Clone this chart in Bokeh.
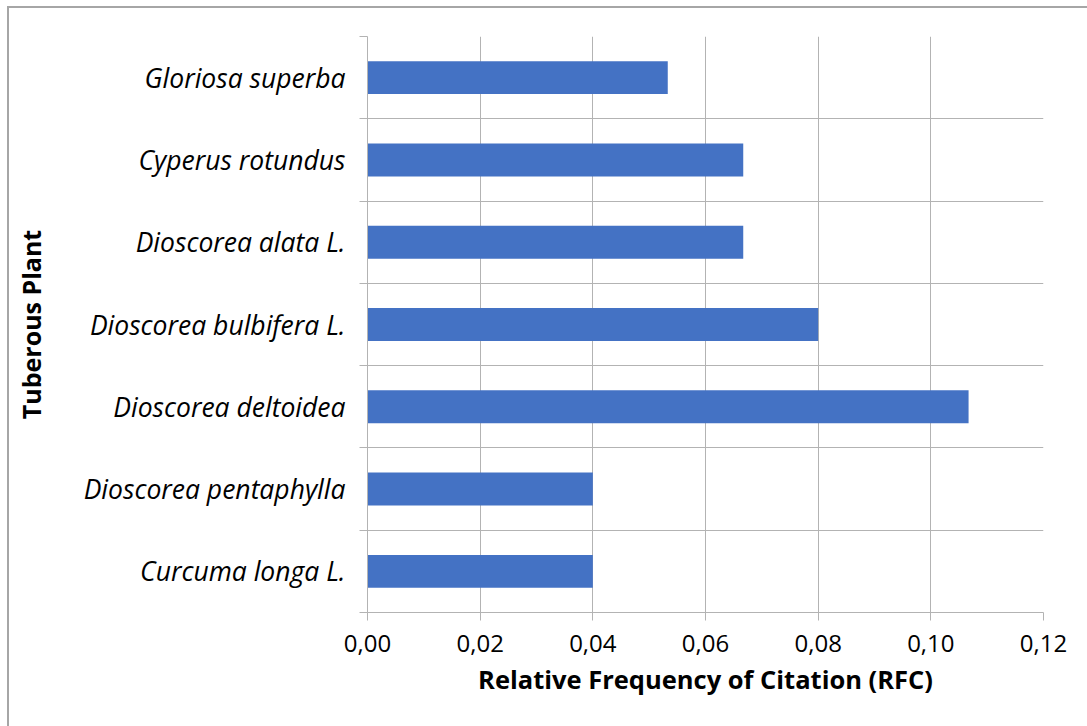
from bokeh.plotting import figure
from bokeh.models import FixedTicker, CustomJSTickFormatter, ColumnDataSource, Range1d, Spacer
from bokeh.layouts import column, row
from bokeh.embed import file_html
from bokeh.resources import INLINE

categories = ["Curcuma longa L.", "Dioscorea pentaphylla", "Dioscorea deltoidea",
              "Dioscorea bulbifera L.", "Dioscorea alata L.", "Cyperus rotundus",
              "Gloriosa superba"]
rfc = [0.04, 0.04, 0.1067, 0.08, 0.0667, 0.0667, 0.0533]
x_ticks = [0.0, 0.02, 0.04, 0.06, 0.08, 0.10, 0.12]

ypos = list(range(len(categories)))
src = ColumnDataSource(dict(y=ypos, rfc=rfc, name=categories))

FONT = "Open Sans"
GRID = "#b3b3b3"

p = figure(width=1080, height=720, output_backend="svg", toolbar_location=None,
           x_range=Range1d(0, 0.12), y_range=Range1d(-0.5, len(categories) - 0.5),
           min_border_left=358, min_border_right=46, min_border_top=28, min_border_bottom=116)
p.styles = {"border-top": "2px solid #a6a6a6", "border-left": "2px solid #a6a6a6"}
p.outline_line_color = None

p.hbar(y="y", right="rfc", left=0, height=0.4, source=src, fill_color="#4472C4", line_color=None)

# x axis
p.xaxis.ticker = FixedTicker(ticks=x_ticks)
p.xaxis.formatter = CustomJSTickFormatter(code="return tick.toFixed(2).replace('.', ',');")
p.xaxis.major_tick_out = 8
p.xaxis.major_tick_in = 0
p.xaxis.minor_tick_out = 0
p.xaxis.axis_line_color = GRID
p.xaxis.major_tick_line_color = GRID
p.xaxis.major_label_text_font = FONT
p.xaxis.major_label_text_font_size = "24px"
p.xaxis.major_label_text_color = "#000000"
p.xaxis.major_label_standoff = 14
p.xaxis.axis_label = "Relative Frequency of Citation (RFC)"
p.xaxis.axis_label_text_font = FONT
p.xaxis.axis_label_text_font_size = "25.5px"
p.xaxis.axis_label_text_font_style = "bold"
p.xaxis.axis_label_text_color = "#000000"
p.xaxis.axis_label_standoff = 7

# y axis: labels at centers, tick marks at category boundaries
bounds = [i - 0.5 for i in range(len(categories) + 1)]
p.yaxis.ticker = FixedTicker(ticks=ypos, minor_ticks=bounds)
p.yaxis.major_label_overrides = {i: c for i, c in enumerate(categories)}
p.yaxis.major_tick_out = 0
p.yaxis.major_tick_in = 0
p.yaxis.minor_tick_out = 8
p.yaxis.minor_tick_in = 0
p.yaxis.minor_tick_line_color = GRID
p.yaxis.axis_line_color = GRID
p.yaxis.major_label_text_font = FONT
p.yaxis.major_label_text_font_size = "26.5px"
p.yaxis.major_label_text_font_style = "italic"
p.yaxis.major_label_text_color = "#000000"
p.yaxis.major_label_standoff = 14
p.yaxis.axis_label = "Tuberous Plant"
p.yaxis.axis_label_text_font = FONT
p.yaxis.axis_label_text_font_size = "25px"
p.yaxis.axis_label_text_font_style = "bold"
p.yaxis.axis_label_text_color = "#000000"
p.yaxis.axis_label_standoff = 33

p.xgrid.ticker = FixedTicker(ticks=x_ticks)
p.xgrid.grid_line_color = GRID
p.ygrid.ticker = FixedTicker(ticks=bounds)
p.ygrid.grid_line_color = GRID

layout = column(Spacer(height=6), row(Spacer(width=7), p))
open("out.html", "w").write(file_html(layout, INLINE))
